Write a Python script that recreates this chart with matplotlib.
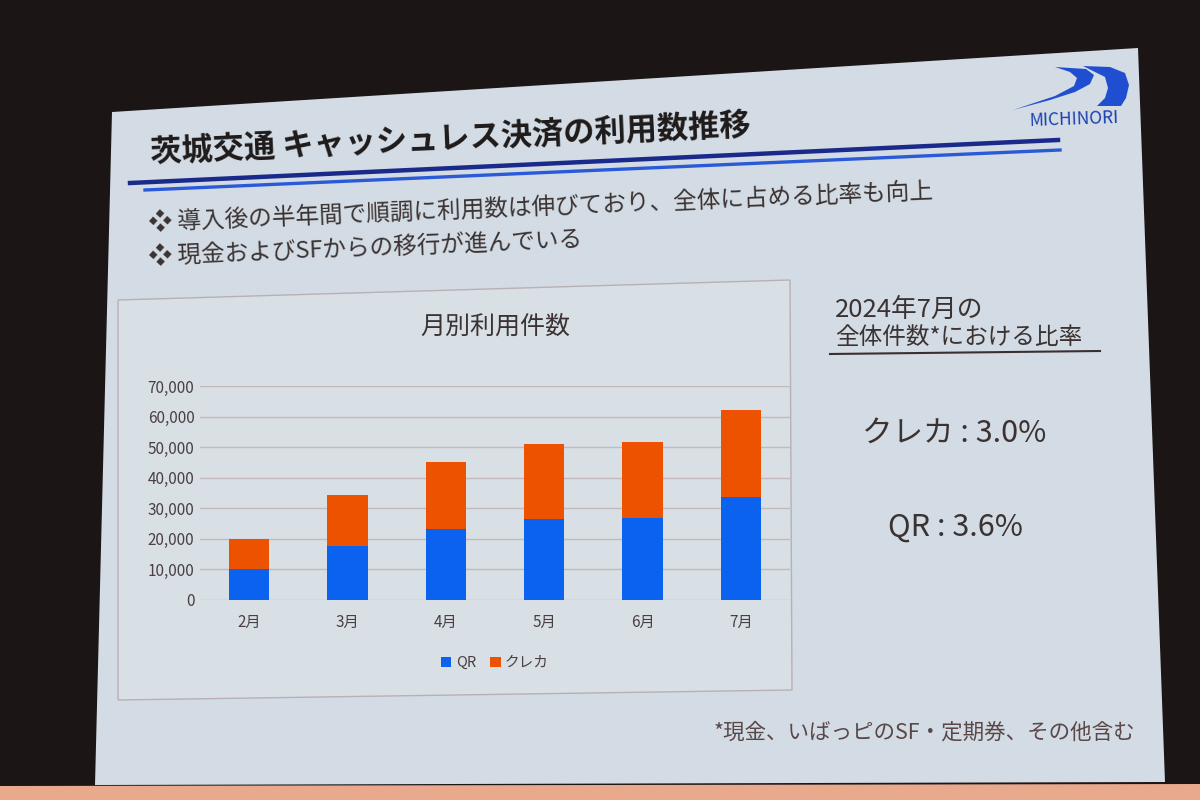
import matplotlib.pyplot as plt
from matplotlib.patches import Polygon
from matplotlib.lines import Line2D

plt.rcParams['font.family'] = ['Noto Sans CJK JP', 'DejaVu Sans']

# データ (月別利用件数)
months = ["2月", "3月", "4月", "5月", "6月", "7月"]
qr = [10000, 17600, 23200, 26500, 26800, 33600]
kureka = [10000, 16700, 21800, 24400, 24800, 28400]
series_names = ["QR", "クレカ"]
yticks = [0, 10000, 20000, 30000, 40000, 50000, 60000, 70000]
ratio_labels = ["クレカ : 3.0%", "QR : 3.6%"]

W, H = 1200, 800


def fx(x):
    return x / W


def fy(y):
    return 1 - y / H


def fig_poly(pts, **kw):
    p = Polygon([(fx(a), fy(b)) for a, b in pts], closed=True,
                transform=fig.transFigure, **kw)
    fig.patches.append(p)
    return p


fig = plt.figure(figsize=(12, 8), dpi=100)
fig.patch.set_facecolor("#1b1515")

# スライド背景
fig_poly([(112, 112), (1138, 48), (1165, 782), (95, 785)],
         facecolor="#d3dce4", edgecolor="none", zorder=0)
fig_poly([(0, 800), (1200, 800), (1200, 784), (0, 786)],
         facecolor="#e9a98c", edgecolor="none", zorder=0)

txt = "#3b3232"

# タイトル
fig.text(fx(150), fy(140), "茨城交通 キャッシュレス決済の利用数推移", fontsize=22.5,
         fontweight="bold", color="#1e1a1a", va="center", rotation=2.6)
fig.add_artist(Line2D([fx(130), fx(1058)], [fy(183), fy(140)], color="#1a2a8a", lw=3.2))
fig.add_artist(Line2D([fx(145), fx(1060)], [fy(190), fy(150)], color="#2a5ad8", lw=2.4))

# 箇条書き
fig.text(fx(148), fy(207), "❖ 導入後の半年間で順調に利用数は伸びており、全体に占める比率も向上",
         fontsize=17, color=txt, va="center", rotation=2.3)
fig.text(fx(148), fy(248), "❖ 現金およびSFからの移行が進んでいる",
         fontsize=17, color=txt, va="center", rotation=2.3)

# ロゴ
fig.text(fx(1074), fy(119), "MICHINORI", fontsize=12.5, color="#1a3fb0",
         ha="center", va="center", rotation=2)
fig_poly([(1013, 110), (1050, 100), (1075, 92), (1090, 84), (1094, 75), (1086, 69),
          (1055, 67), (1070, 72), (1077, 78), (1074, 86), (1055, 96)],
         facecolor="#1f4fd0", edgecolor="none", zorder=1)
fig_poly([(1083, 66), (1110, 67), (1125, 73), (1129, 85), (1126, 98), (1121, 106),
          (1097, 106), (1105, 98), (1108, 88), (1105, 77)],
         facecolor="#1f4fd0", edgecolor="none", zorder=1)

# グラフ枠
fig_poly([(118, 300), (790, 280), (792, 690), (118, 700)],
         facecolor="#d8e0e6", edgecolor="#b8b0b4", lw=1, zorder=0.5)

ax = fig.add_axes([fx(200), fy(600), fx(790) - fx(200), fy(386) - fy(600)])
ax.set_zorder(2)
ax.set_facecolor("none")
x = range(len(months))
ax.bar(x, qr, width=0.41, color="#0a62ee", label=series_names[0], zorder=3)
ax.bar(x, kureka, width=0.41, bottom=qr, color="#ec5200", label=series_names[1], zorder=3)
ax.set_xlim(-0.5, len(months) - 0.5)
ax.set_ylim(0, 70000)
ax.set_yticks(yticks)
ax.set_yticklabels([f"{v:,}" for v in yticks], fontsize=11, color="#4a4044")
ax.set_xticks(list(x))
ax.set_xticklabels(months, fontsize=11, color="#4a4044")
ax.tick_params(length=0, axis="y", pad=4)
ax.tick_params(length=0, axis="x", pad=10)
ax.grid(axis="y", color="#c4b8bc", lw=1)
for s in ax.spines.values():
    s.set_visible(False)
ax.set_title("月別利用件数", fontsize=18, color=txt, pad=38)
ax.legend(loc="upper center", bbox_to_anchor=(0.5, -0.2), ncol=2, frameon=False,
          fontsize=10.5, handlelength=0.7, handleheight=0.7, columnspacing=1.0,
          handletextpad=0.3, labelcolor="#4a4044")

# 右側の比率
fig.text(fx(835), fy(310), "2024年7月の", fontsize=18.5, color=txt, va="center")
fig.text(fx(835), fy(338), "全体件数*における比率", fontsize=17, color=txt, va="center")
fig.add_artist(Line2D([fx(830), fx(1100)], [fy(354), fy(351)], color="#3b3030", lw=1.5))
fig.text(fx(862), fy(433), ratio_labels[0], fontsize=22, color=txt, va="center")
fig.text(fx(888), fy(527), ratio_labels[1], fontsize=22, color=txt, va="center")

# 注記
fig.text(fx(1135), fy(733), "*現金、いばっピのSF・定期券、その他含む", fontsize=15.5,
         color="#5a4848", ha="right", va="center")

fig.savefig("out.png", dpi=100, facecolor=fig.get_facecolor())
